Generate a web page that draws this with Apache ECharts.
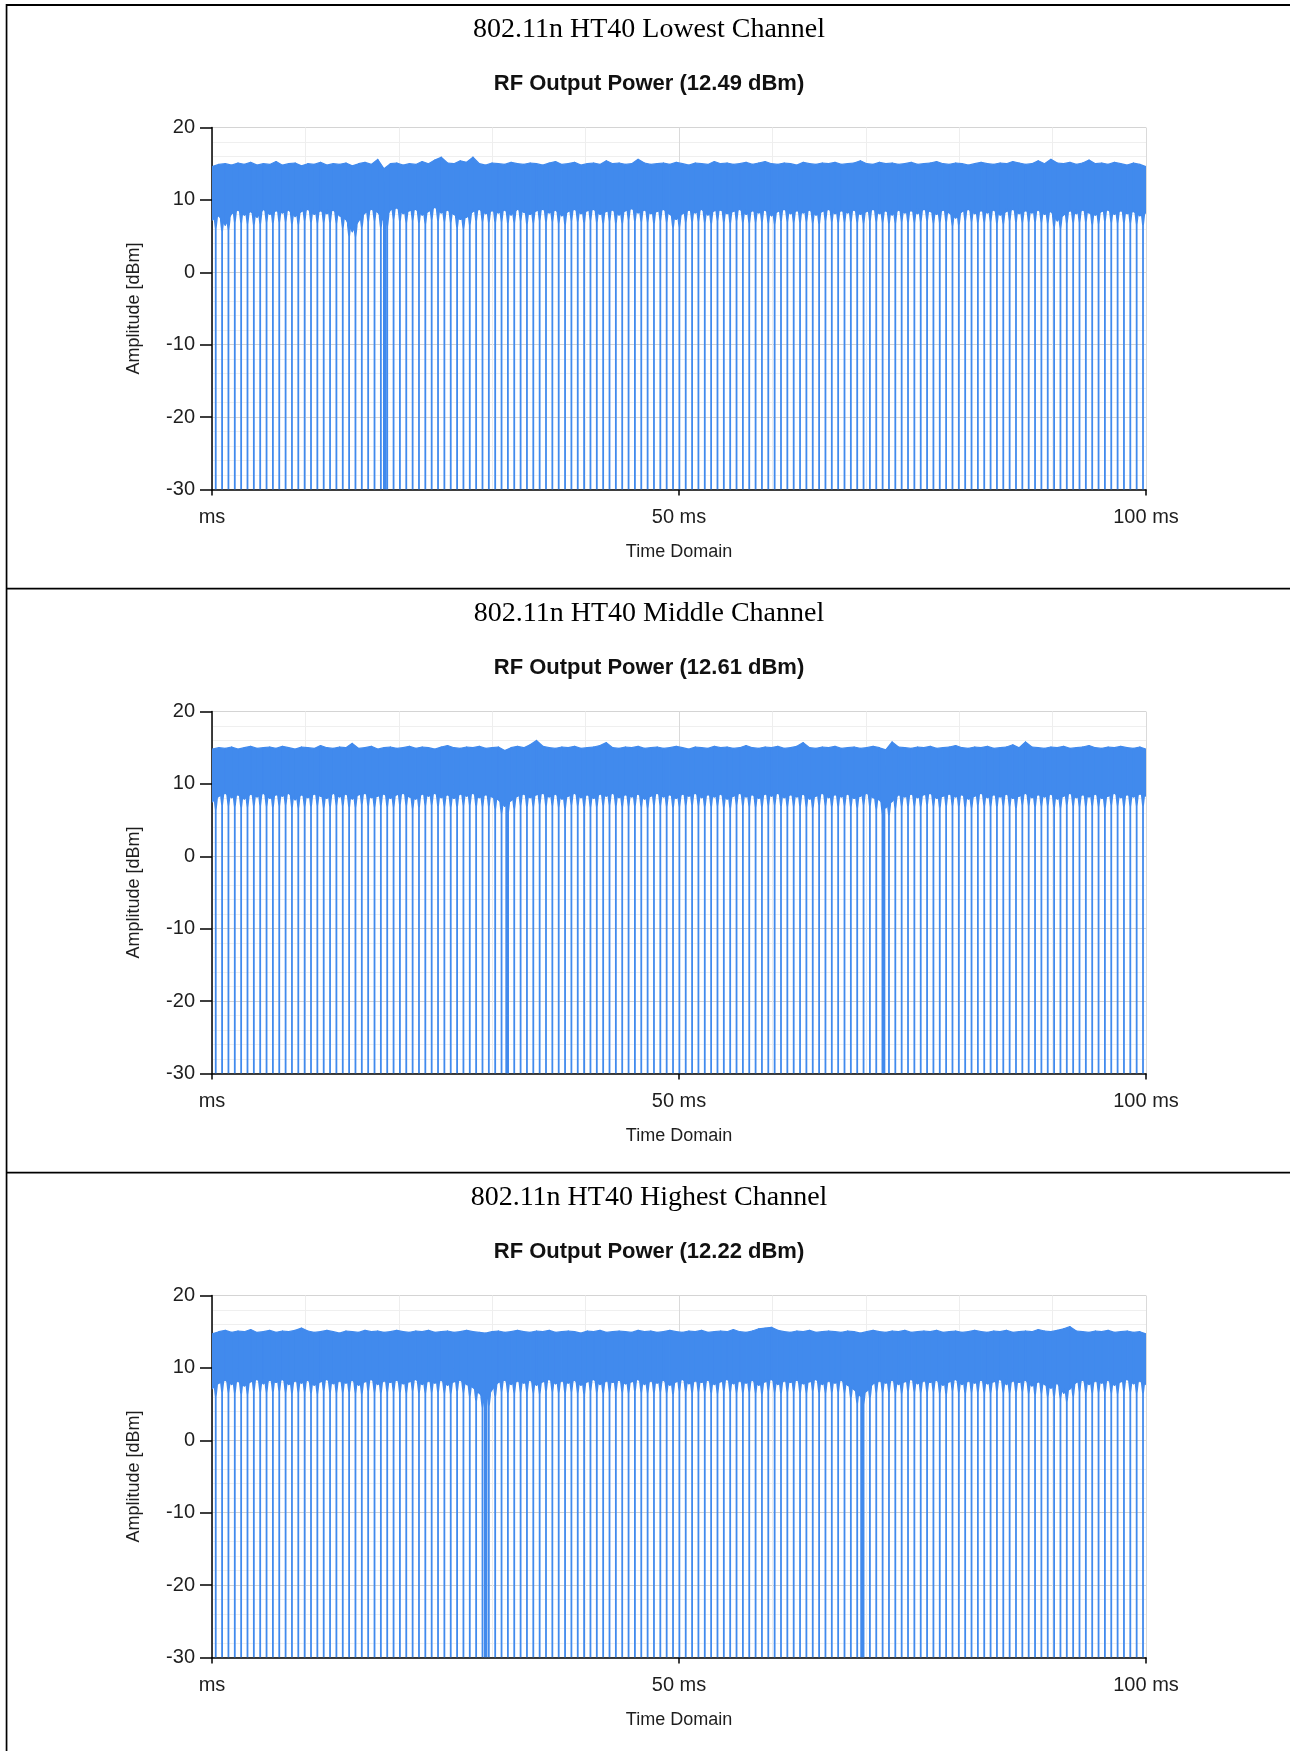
<!DOCTYPE html>
<html>
<head>
<meta charset="utf-8">
<script src="https://cdn.jsdelivr.net/npm/echarts@6/dist/echarts.min.js"></script>
<style>
  html, body { margin: 0; padding: 0; background: #fff; }
  #main { width: 1290px; height: 1751px; }
</style>
</head>
<body>
<div id="main"></div>
<script>
// Power-vs-time captures of the 802.11n HT40 transmitter, one panel per channel.
const channelNames = ['802.11n HT40 Lowest Channel', '802.11n HT40 Middle Channel', '802.11n HT40 Highest Channel'];
const rfOutputPowerDbm = [12.49, 12.61, 12.22];
const timeTicksMs = [0, 50, 100];
const amplitudeTicksDbm = [-30, -20, -10, 0, 10, 20];

// Instants (ms) where the carrier switches off between frames.
const frameGapsMs = [
  0.40, 1.08, 1.76, 2.44, 3.12, 3.80, 4.48, 5.16, 5.84, 6.52, 7.20, 7.88, 8.56, 9.24, 9.92,
  10.60, 11.28, 11.96, 12.64, 13.32, 14.00, 14.68, 15.36, 16.04, 16.72, 17.40, 18.08, 18.76, 19.44,
  20.12, 20.80, 21.48, 22.16, 22.84, 23.52, 24.20, 24.88, 25.56, 26.24, 26.92, 27.60, 28.28, 28.96,
  29.64, 30.32, 31.00, 31.68, 32.36, 33.04, 33.72, 34.40, 35.08, 35.76, 36.44, 37.12, 37.80, 38.48,
  39.16, 39.84, 40.52, 41.20, 41.88, 42.56, 43.24, 43.92, 44.60, 45.28, 45.96, 46.64, 47.32, 48.00,
  48.68, 49.36, 50.04, 50.72, 51.40, 52.08, 52.76, 53.44, 54.12, 54.80, 55.48, 56.16, 56.84, 57.52,
  58.20, 58.88, 59.56, 60.24, 60.92, 61.60, 62.28, 62.96, 63.64, 64.32, 65.00, 65.68, 66.36, 67.04,
  67.72, 68.40, 69.08, 69.76, 70.44, 71.12, 71.80, 72.48, 73.16, 73.84, 74.52, 75.20, 75.88, 76.56,
  77.24, 77.92, 78.60, 79.28, 79.96, 80.64, 81.32, 82.00, 82.68, 83.36, 84.04, 84.72, 85.40, 86.08,
  86.76, 87.44, 88.12, 88.80, 89.48, 90.16, 90.84, 91.52, 92.20, 92.88, 93.56, 94.24, 94.92, 95.60,
  96.28, 96.96, 97.64, 98.32, 99.00, 99.68
];

// Per-frame upper and lower edges of the burst envelope (dBm), lowest channel.
const lowestPeakDbm = [
  14.6, 14.9, 15.0, 14.8, 15.1, 14.9, 15.2, 14.8, 15.0, 14.9,
  15.3, 14.8, 15.0, 15.1, 14.7, 15.0, 14.9, 15.2, 14.8, 15.0,
  14.9, 15.1, 14.7, 15.0, 15.2, 14.9, 15.6, 14.3, 15.0, 15.1,
  14.8, 15.0, 14.9, 15.3, 15.0, 15.5, 15.9, 15.1, 15.0, 15.4,
  15.2, 15.9, 15.0, 14.8, 15.1, 15.0, 14.9, 15.2, 15.0, 14.9,
  15.1, 15.0, 14.8, 15.1, 15.3, 14.9, 15.0, 15.2, 14.8, 15.0,
  15.1, 14.9, 15.4, 15.0, 15.1, 14.9, 15.0, 15.6, 15.1, 14.9,
  15.0, 15.1, 14.9, 15.2, 15.0, 14.8, 15.1, 15.0, 14.9, 15.3,
  15.0, 15.1, 14.9, 15.0, 15.2, 14.9, 15.1, 15.3, 15.0, 14.9,
  15.1, 15.0, 14.8, 15.2, 15.0, 14.9, 15.1, 15.0, 15.2, 14.9,
  15.0, 15.1, 15.4, 15.0, 14.9, 15.2, 15.0, 15.1, 14.9, 15.0,
  15.2, 14.9, 15.0, 15.1, 15.3, 15.0, 14.9, 15.1, 15.0, 14.8,
  15.0, 15.2, 15.0, 14.9, 15.1, 15.0, 15.3, 15.1, 14.9, 15.0,
  15.4, 15.0, 15.6, 15.1, 15.0, 15.2, 14.9, 15.1, 15.5, 15.0,
  15.1, 14.9, 15.2, 15.0, 14.8, 15.1, 14.9, 14.6
];
const lowestFloorDbm = [
  7.2, 7.8, 6.5, 8.1, 8.6, 7.9, 8.4, 7.6, 8.7, 8.0,
  8.5, 8.2, 8.6, 7.7, 8.4, 8.7, 8.0, 8.5, 8.1, 8.6,
  7.8, 7.3, 5.6, 7.1, 8.2, 8.7, 8.3, 7.0, 8.6, 8.9,
  8.1, 8.5, 8.7, 7.9, 8.4, 9.0, 8.2, 8.6, 8.0, 7.3,
  7.6, 8.4, 8.7, 8.1, 8.5, 8.2, 8.6, 7.9, 8.7, 8.3,
  8.0, 8.5, 8.7, 8.2, 8.6, 7.8, 8.4, 8.7, 8.1, 8.5,
  8.7, 8.0, 8.4, 8.6, 7.9, 8.5, 8.8, 8.2, 8.6, 8.1,
  8.4, 8.7, 8.0, 7.3, 8.1, 8.6, 8.2, 8.7, 7.9, 8.5,
  8.6, 8.1, 8.4, 8.7, 8.0, 8.5, 8.2, 8.6, 7.8, 8.4,
  8.7, 8.1, 8.5, 8.2, 8.6, 7.9, 8.4, 8.7, 8.1, 8.5,
  8.2, 8.6, 8.0, 8.4, 8.7, 8.1, 8.5, 7.9, 8.6, 8.2,
  8.5, 8.1, 8.7, 8.4, 8.0, 8.6, 8.2, 7.5, 8.4, 8.7,
  8.1, 8.5, 8.2, 8.6, 7.9, 8.4, 8.7, 8.1, 8.5, 8.2,
  8.6, 8.0, 8.4, 7.1, 7.9, 8.5, 8.1, 8.6, 8.2, 7.9,
  8.4, 8.6, 8.0, 8.5, 8.1, 8.4, 7.8, 8.2
];
const lowestDropoutsMs = [18.5];

// Middle channel.
const middlePeakDbm = [
  14.8, 15.0, 14.9, 15.1, 14.8, 15.0, 15.2, 14.9, 15.0, 15.1,
  14.9, 15.2, 15.0, 14.8, 15.1, 15.0, 14.9, 15.3, 15.0, 14.9,
  15.1, 15.0, 15.6, 14.9, 15.0, 15.2, 14.8, 15.0, 15.1, 14.9,
  15.0, 15.2, 14.9, 15.1, 15.0, 14.8, 15.1, 15.3, 15.0, 14.9,
  15.1, 15.0, 15.2, 14.9, 15.0, 15.1, 14.6, 15.0, 15.2, 15.0,
  15.4, 16.0, 15.2, 15.0, 14.9, 15.1, 15.0, 15.2, 14.9, 15.0,
  15.1, 15.3, 15.7, 15.0, 14.9, 15.1, 15.0, 15.2, 14.9, 15.0,
  15.1, 14.9, 15.0, 15.2, 15.0, 14.8, 15.1, 15.0, 14.9, 15.2,
  15.0, 15.1, 14.9, 15.0, 15.3, 15.0, 14.9, 15.1, 15.0, 15.2,
  14.9, 15.0, 15.2, 15.7, 15.0, 14.9, 15.1, 15.0, 15.2, 14.9,
  15.0, 15.1, 14.9, 15.0, 15.2, 15.0, 14.7, 15.8, 15.1, 15.0,
  14.9, 15.1, 15.0, 15.2, 14.9, 15.0, 15.1, 15.3, 15.0, 14.9,
  15.1, 15.0, 15.2, 14.9, 15.0, 15.1, 15.4, 15.0, 15.8, 15.1,
  15.0, 14.9, 15.1, 15.0, 15.2, 14.9, 15.0, 15.1, 15.3, 15.0,
  14.9, 15.1, 15.0, 15.2, 15.0, 14.9, 15.1, 14.8
];
const middleFloorDbm = [
  7.5, 8.3, 8.7, 8.1, 8.5, 7.9, 8.6, 8.2, 8.7, 8.0,
  8.5, 8.3, 8.7, 7.8, 8.5, 8.1, 8.6, 8.3, 8.0, 8.7,
  8.2, 8.6, 7.9, 8.5, 8.7, 8.1, 8.3, 8.6, 8.0, 8.5,
  8.7, 8.2, 7.9, 8.6, 8.3, 8.7, 8.1, 8.5, 8.0, 8.6,
  8.3, 8.7, 8.1, 8.5, 8.2, 7.8, 6.9, 7.7, 8.3, 8.6,
  8.1, 8.5, 8.7, 8.2, 8.6, 7.9, 8.3, 8.7, 8.1, 8.5,
  8.0, 8.6, 8.3, 8.7, 8.1, 8.5, 8.2, 8.6, 7.9, 8.3,
  8.7, 8.2, 8.5, 8.0, 8.6, 8.3, 8.7, 8.1, 8.5, 8.2,
  8.6, 7.9, 8.3, 8.7, 8.2, 8.5, 8.0, 8.6, 8.3, 8.7,
  8.1, 8.5, 8.2, 8.6, 7.9, 8.3, 8.7, 8.1, 8.5, 8.2,
  8.6, 8.0, 8.3, 8.7, 8.1, 7.8, 6.7, 7.6, 8.5, 8.2,
  8.6, 8.1, 8.5, 8.7, 8.0, 8.3, 8.6, 8.2, 8.5, 7.9,
  8.3, 8.7, 8.1, 8.5, 8.2, 8.6, 8.0, 8.3, 8.7, 8.1,
  8.5, 8.2, 8.6, 7.9, 8.3, 8.7, 8.1, 8.5, 8.2, 8.6,
  8.0, 8.3, 8.7, 8.1, 8.5, 8.2, 8.6, 8.3
];
const middleDropoutsMs = [31.6, 71.9];

// Highest channel.
const highestPeakDbm = [
  14.7, 15.0, 15.2, 14.9, 15.1, 15.0, 15.3, 14.9, 15.0, 15.2,
  14.9, 15.1, 15.0, 15.2, 15.5, 15.1, 14.9, 15.0, 15.2, 15.0,
  14.8, 15.1, 15.0, 14.9, 15.2, 15.0, 15.1, 14.9, 15.0, 15.2,
  15.0, 14.9, 15.1, 15.0, 15.2, 14.9, 15.0, 15.1, 14.9, 15.0,
  15.2, 15.0, 14.9, 14.8, 15.0, 15.1, 14.9, 15.0, 15.2, 15.0,
  14.9, 15.1, 15.0, 15.2, 14.9, 15.0, 15.1, 15.0, 14.8, 15.1,
  15.0, 15.2, 14.9, 15.0, 15.1, 15.0, 14.9, 15.2, 15.0, 15.1,
  14.9, 15.0, 15.2, 15.0, 14.9, 15.1, 15.0, 15.2, 14.9, 15.0,
  15.1, 15.0, 15.3, 15.0, 14.9, 15.1, 15.4, 15.5, 15.6, 15.2,
  15.0, 14.9, 15.1, 15.0, 15.2, 14.9, 15.0, 15.1, 15.0, 14.9,
  15.1, 15.0, 14.8, 15.0, 15.2, 15.0, 14.9, 15.1, 15.0, 15.2,
  14.9, 15.0, 15.1, 15.0, 15.2, 14.9, 15.0, 15.1, 14.9, 15.0,
  15.2, 15.0, 14.9, 15.1, 15.0, 15.2, 14.9, 15.0, 15.1, 15.0,
  15.3, 15.1, 15.0, 15.2, 15.4, 15.7, 15.1, 15.0, 14.9, 15.1,
  15.0, 15.2, 14.9, 15.0, 15.1, 14.9, 15.0, 14.7
];
const highestFloorDbm = [
  7.1, 7.9, 8.3, 7.7, 8.2, 7.5, 8.1, 8.4, 7.8, 8.3,
  8.0, 8.4, 7.7, 8.2, 7.9, 8.3, 7.6, 8.1, 8.4, 7.8,
  8.2, 7.9, 8.3, 7.6, 8.1, 8.4, 7.7, 8.2, 8.0, 8.3,
  7.8, 8.1, 8.4, 7.7, 8.2, 7.9, 8.3, 7.6, 8.1, 8.3,
  7.7, 7.3, 6.5, 5.4, 7.0, 8.0, 8.3, 7.7, 8.2, 7.9,
  8.3, 7.6, 8.1, 8.4, 7.8, 8.2, 7.9, 8.3, 7.6, 8.1,
  8.4, 7.7, 8.2, 8.0, 8.3, 7.8, 8.1, 8.4, 7.7, 8.2,
  7.9, 8.3, 7.6, 8.1, 8.4, 7.8, 8.2, 8.0, 8.3, 7.7,
  8.1, 8.4, 7.8, 8.2, 7.9, 8.3, 7.6, 8.1, 8.4, 7.7,
  8.2, 8.0, 8.3, 7.8, 8.1, 8.4, 7.7, 8.2, 7.9, 8.3,
  7.6, 7.0, 6.1, 6.8, 7.8, 8.2, 7.9, 8.3, 7.7, 8.1,
  8.4, 7.8, 8.2, 8.0, 8.3, 7.6, 8.1, 8.4, 7.7, 8.2,
  7.9, 8.3, 7.8, 8.1, 8.4, 7.7, 8.2, 8.0, 8.3, 7.5,
  8.1, 7.7, 7.2, 7.9, 6.5, 7.1, 8.0, 8.3, 7.7, 8.2,
  7.9, 8.3, 7.6, 8.1, 8.4, 7.8, 8.2, 7.7
];
const highestDropoutsMs = [29.3, 69.6];

const TRACE = '#418AED';
const SANS = '"Liberation Sans", Arial, sans-serif';
const SERIF = '"Liberation Serif", "Times New Roman", serif';
const panelTop = [4, 588, 1172];
const xMin = timeTicksMs[0], xMax = timeTicksMs[timeTicksMs.length - 1];
const yMin = amplitudeTicksDbm[0], yMax = amplitudeTicksDbm[amplitudeTicksDbm.length - 1];

const channels = [
  { gaps: frameGapsMs, peak: lowestPeakDbm, floor: lowestFloorDbm, drops: lowestDropoutsMs },
  { gaps: frameGapsMs, peak: middlePeakDbm, floor: middleFloorDbm, drops: middleDropoutsMs },
  { gaps: frameGapsMs, peak: highestPeakDbm, floor: highestFloorDbm, drops: highestDropoutsMs }
];

const grids = [], xAxes = [], yAxes = [], series = [], titles = [];

// Falling/rising edge at a frame gap: [t, envelope floor at t, stroke width (px)].
// The edge is wide where it leaves the burst and narrows towards the noise floor.
function renderDropLine(params, api) {
  const t = api.value(0), f = api.value(1), w = api.value(2);
  const wide = 4.2;
  const a = api.coord([t, f + 1.5]);
  const b = api.coord([t, f]);
  const c = api.coord([t, f - 1.5]);
  const d = api.coord([t, yMin]);
  return {
    type: 'polygon',
    shape: {
      points: [
        [a[0] - wide / 2, a[1]], [a[0] + wide / 2, a[1]],
        [b[0] + wide / 2, b[1]], [c[0] + w / 2, c[1]], [d[0] + w / 2, d[1]],
        [d[0] - w / 2, d[1]], [c[0] - w / 2, c[1]], [b[0] - wide / 2, b[1]]
      ]
    },
    style: { fill: TRACE }
  };
}

// Burst envelope between two neighbouring frame anchors: [x0, peak0, floor0, x1, peak1, floor1].
function renderEnvelope(params, api) {
  const x0 = api.value(0), x1 = api.value(3);
  const pts = [
    api.coord([x0, api.value(1)]),
    api.coord([x1, api.value(4)]),
    api.coord([x1, api.value(5)]),
    api.coord([x0, api.value(2)])
  ];
  return {
    type: 'polygon',
    shape: { points: pts },
    style: { fill: TRACE, stroke: TRACE, lineWidth: 1.2, lineJoin: 'round' }
  };
}

channels.forEach((ch, k) => {
  const top = panelTop[k];

  titles.push({
    text: channelNames[k], left: 649, top: top + 26, textAlign: 'center', textVerticalAlign: 'middle', padding: 0,
    textStyle: { fontFamily: SERIF, fontSize: 28, fontWeight: 'normal', color: '#000', lineHeight: 28 }
  });
  titles.push({
    text: 'RF Output Power (' + rfOutputPowerDbm[k].toFixed(2) + ' dBm)', left: 649, top: top + 80,
    textAlign: 'center', textVerticalAlign: 'middle', padding: 0,
    textStyle: { fontFamily: SANS, fontSize: 22, fontWeight: 'bold', color: '#111', lineHeight: 22 }
  });

  grids.push({ left: 212, width: 934, top: top + 123.5, height: 362 });

  xAxes.push({
    gridIndex: k, type: 'value', min: xMin, max: xMax, interval: timeTicksMs[1] - timeTicksMs[0],
    name: 'Time Domain', nameLocation: 'middle', nameGap: 54, nameMoveOverlap: false,
    nameTextStyle: { fontFamily: SANS, fontSize: 18, color: '#1e1e1e', lineHeight: 18 },
    axisLine: { show: true, onZero: false, lineStyle: { color: '#000', width: 1.5 } },
    axisTick: { show: true, length: 6, lineStyle: { color: '#000', width: 1.5 } },
    axisLabel: {
      fontFamily: SANS, fontSize: 20, color: '#1e1e1e', margin: 18, lineHeight: 20,
      formatter: v => (v === 0 ? 'ms' : v + ' ms')
    },
    splitLine: { show: true, lineStyle: { color: '#dadada', width: 1 } },
    minorTick: { show: false, splitNumber: 5 },
    minorSplitLine: { show: true, lineStyle: { color: '#eeeeee', width: 1 } }
  });

  yAxes.push({
    gridIndex: k, type: 'value', min: yMin, max: yMax, interval: amplitudeTicksDbm[1] - amplitudeTicksDbm[0],
    name: 'Amplitude [dBm]', nameLocation: 'middle', nameGap: 69, nameMoveOverlap: false,
    nameTextStyle: { fontFamily: SANS, fontSize: 18, color: '#1e1e1e', lineHeight: 18 },
    axisLine: { show: true, onZero: false, lineStyle: { color: '#000', width: 1.5 } },
    axisTick: { show: true, length: 12, lineStyle: { color: '#000', width: 1.5 } },
    axisLabel: { fontFamily: SANS, fontSize: 20, color: '#1e1e1e', margin: 17 },
    splitLine: { show: true, lineStyle: { color: '#d4d4d4', width: 1 } },
    minorTick: { show: false, splitNumber: 5 },
    minorSplitLine: { show: true, lineStyle: { color: '#efefef', width: 1 } }
  });

  // Frame anchors: the envelope is drawn through the middle of each frame.
  const xs = [xMin];
  for (let i = 1; i < ch.gaps.length; i++) xs.push((ch.gaps[i - 1] + ch.gaps[i]) / 2);
  xs.push(xMax);

  const envData = [];
  for (let i = 0; i + 1 < xs.length; i++) {
    envData.push([xs[i], ch.peak[i], ch.floor[i], xs[i + 1], ch.peak[i + 1], ch.floor[i + 1]]);
  }
  const dropData = ch.gaps.map((g, j) => [g, (ch.floor[j] + ch.floor[j + 1]) / 2, 1.8])
    .concat(ch.drops.map(t => [t, 11, 3.6]));

  series.push({
    type: 'custom', xAxisIndex: k, yAxisIndex: k, clip: true, silent: true, z: 2,
    encode: { x: 0, y: 1 }, data: dropData, renderItem: renderDropLine
  });
  series.push({
    type: 'custom', xAxisIndex: k, yAxisIndex: k, clip: true, silent: true, z: 3,
    encode: { x: [0, 3], y: [1, 2, 4, 5] }, data: envData, renderItem: renderEnvelope
  });
});

const chart = echarts.init(document.getElementById('main'), null, { renderer: 'canvas', width: 1290, height: 1751 });
chart.setOption({
  animation: false,
  backgroundColor: '#fff',
  title: titles,
  grid: grids,
  xAxis: xAxes,
  yAxis: yAxes,
  series: series,
  graphic: [
    { type: 'rect', shape: { x: 6, y: 4, width: 1284, height: 2 }, style: { fill: '#000' } },
    { type: 'rect', shape: { x: 5.7, y: 4, width: 1.7, height: 1747 }, style: { fill: '#000' } },
    { type: 'rect', shape: { x: 6, y: 587.7, width: 1284, height: 1.8 }, style: { fill: '#000' } },
    { type: 'rect', shape: { x: 6, y: 1171.8, width: 1284, height: 1.8 }, style: { fill: '#000' } }
  ]
});
</script>
</body>
</html>
